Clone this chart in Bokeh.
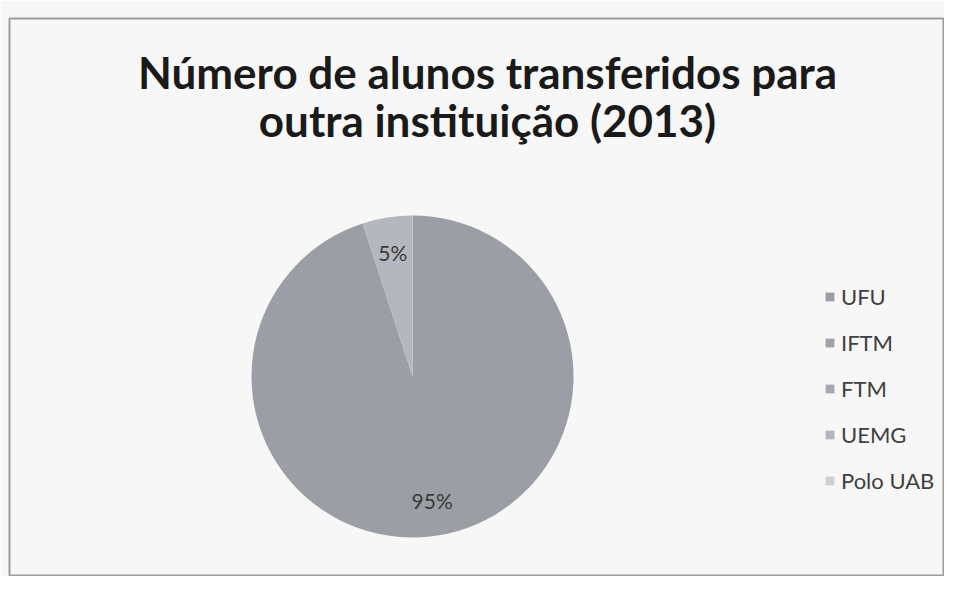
import numpy as np
from bokeh.plotting import figure, ColumnDataSource
from bokeh.models import Range1d, Legend, LegendItem, Label
from bokeh.core.properties import value
from bokeh.embed import file_html
from bokeh.resources import INLINE

title_lines = ["Número de alunos transferidos para", "outra instituição (2013)"]
categories = ["UFU", "IFTM", "FTM", "UEMG", "Polo UAB"]
values = [95, 0, 0, 5, 0]
colors = ["#9c9ea6", "#a0a2a9", "#a7a9b0", "#b5b7be", "#cdcfd4"]

vals = np.array(values, dtype=float)
frac = vals / vals.sum()
cum = np.concatenate([[0.0], np.cumsum(frac)])
start = np.pi / 2 - 2 * np.pi * cum[:-1]
end = np.pi / 2 - 2 * np.pi * cum[1:]
mid = (start + end) / 2

cx, cy, R = 403, 200, 161
nz = [i for i in range(len(values)) if values[i] > 0]

all_src = ColumnDataSource(dict(cat=categories, color=colors))
pie_src = ColumnDataSource(dict(
    cat=[categories[i] for i in nz], start=[start[i] for i in nz], end=[end[i] for i in nz],
    color=[colors[i] for i in nz],
    lx=[cx + 0.78 * R * np.cos(mid[i]) for i in nz],
    ly=[cy + 0.78 * R * np.sin(mid[i]) for i in nz],
    lab=[f"{round(frac[i]*100)}%" for i in nz]))

p = figure(width=944, height=576, output_backend="svg", toolbar_location=None,
           x_range=Range1d(0, 935), y_range=Range1d(0, 558),
           min_border_left=9, min_border_top=18, min_border_right=0, min_border_bottom=0,
           background_fill_color="#f7f7f7", border_fill_color="#f7f7f7")
p.axis.visible = False
p.grid.visible = False
p.outline_line_color = "#9c9c9c"
p.outline_line_width = 2

p.wedge(x=cx, y=cy, radius=R, start_angle="start", end_angle="end",
        direction="clock", fill_color="color", line_color=None, source=pie_src)

# legend proxy: zero-radius wedges carrying every category's colour
proxy = p.wedge(x=cx, y=cy, radius=0, start_angle=0, end_angle=0.1,
                fill_color="color", line_color=None, source=all_src)

p.text(x="lx", y="ly", text="lab", source=pie_src, text_align="center", text_baseline="middle",
       text_font=value("Lato"), text_font_size="21px", text_color="#3a3a3a")

for i, line in enumerate(title_lines):
    p.add_layout(Label(x=478, y=505 - 48 * i, text=line, text_align="center",
                       text_baseline="alphabetic", text_font="Lato", text_font_style="bold",
                       text_font_size="44px", text_color="#1a1a1a"))

items = [LegendItem(label=c, renderers=[proxy], index=i) for i, c in enumerate(categories)]
legend = Legend(items=items, location=(815, 82), orientation="vertical",
                glyph_width=11, glyph_height=11, label_height=26, spacing=19,
                label_standoff=6, padding=0, margin=0,
                label_text_font="Lato", label_text_font_size="22px",
                label_text_color="#404040",
                background_fill_alpha=0, border_line_color=None)
p.add_layout(legend)

open("out.html", "w").write(file_html(p, INLINE))
